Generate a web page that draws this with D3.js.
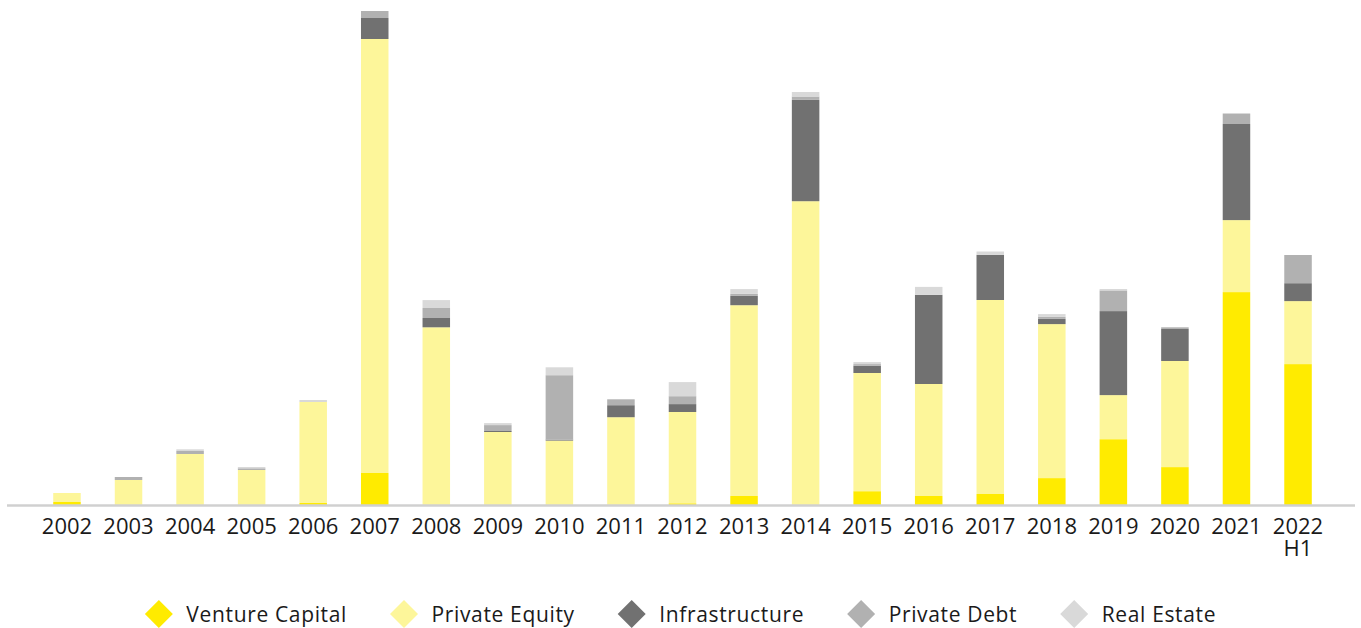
<!DOCTYPE html>
<html>
<head>
<meta charset="utf-8">
<script src="https://cdn.jsdelivr.net/npm/d3@7"></script>
<style>
  html, body { margin: 0; padding: 0; background: #ffffff; }
  svg { display: block; }
</style>
</head>
<body>
<svg id="chart" width="1361" height="628"></svg>
<script>
// ---- Data ----
const years = ["2002","2003","2004","2005","2006","2007","2008","2009","2010","2011","2012",
               "2013","2014","2015","2016","2017","2018","2019","2020","2021","2022\nH1"];
const seriesNames = ["Venture Capital","Private Equity","Infrastructure","Private Debt","Real Estate"];
const ventureCapital = [0.3, 0, 0, 0, 0.2, 3.2, 0, 0, 0, 0, 0.17, 0.9, 0, 1.38, 0.9, 1.1, 2.69, 6.58, 3.79, 21.29, 14.09];
const privateEquity  = [0.9, 2.5, 5.1, 3.5, 10.1, 43.4, 17.77, 7.3, 6.44, 8.78, 9.13, 19.08, 30.38, 11.82, 11.2, 19.4, 15.4, 4.41, 10.61, 7.2, 6.3];
const infrastructure = [0, 0, 0, 0, 0, 2.1, 0.93, 0.1, 0.1, 1.2, 0.79, 0.93, 10.13, 0.72, 8.92, 4.51, 0.52, 8.4, 3.2, 9.61, 1.79];
const privateDebt    = [0, 0.3, 0.3, 0.17, 0, 0.7, 1.0, 0.59, 6.44, 0.59, 0.79, 0.2, 0.34, 0.17, 0, 0, 0.2, 2.07, 0.17, 1.0, 2.82];
const realEstate     = [0, 0, 0.17, 0.13, 0.2, 0, 0.79, 0.2, 0.79, 0, 1.41, 0.48, 0.45, 0.2, 0.79, 0.34, 0.28, 0.14, 0, 0.1, 0];
const colors = ["#FFEB00", "#FDF69A", "#717171", "#B1B1B1", "#D9D9D9"];

const seriesValues = [ventureCapital, privateEquity, infrastructure, privateDebt, realEstate];
const table = years.map((y, i) => {
  const row = { year: y };
  seriesNames.forEach((s, k) => row[s] = seriesValues[k][i]);
  return row;
});

const svg = d3.select("#chart");
const W = 1361, H = 628;

const x = d3.scaleBand().domain(years).range([36.2, 1328.8]).paddingInner(0.553).paddingOuter(0.2765);
const y = d3.scaleLinear().domain([0, 50]).range([505, 5]);

const stack = d3.stack().keys(seriesNames);
const stacked = stack(table);

const color = d3.scaleOrdinal().domain(seriesNames).range(colors);

svg.append("g").selectAll("g")
  .data(stacked)
  .join("g")
  .attr("fill", d => color(d.key))
  .selectAll("rect")
  .data(d => d)
  .join("rect")
  .attr("x", d => x(d.data.year))
  .attr("width", x.bandwidth())
  .attr("y", d => y(d[1]))
  .attr("height", d => Math.max(0, y(d[0]) - y(d[1])));

// x axis
const xAxis = d3.axisBottom(x).tickSize(0).tickPadding(0);
const gx = svg.append("g").attr("transform", "translate(0,505.5)").call(xAxis);
gx.select(".domain").remove();
svg.append("line")
  .attr("x1", 7).attr("x2", 1355)
  .attr("y1", 505.5).attr("y2", 505.5)
  .attr("stroke", "#D0D0D0").attr("stroke-width", 2.5);

gx.selectAll(".tick text").each(function(d) {
  const t = d3.select(this);
  const lines = d.split("\n");
  t.text(null)
   .attr("y", 0).attr("dy", null)
   .attr("font-family", "'Open Sans', sans-serif")
   .attr("font-size", 22)
   .attr("fill", "#1a1a1a")
   .attr("text-anchor", "middle");
  lines.forEach((ln, i) => {
    t.append("tspan").attr("x", 0).attr("y", 28.5 + i * 22).text(ln);
  });
});

// legend
const legend = svg.append("g").attr("class", "legend");
const items = legend.selectAll("g").data(seriesNames).join("g");
items.append("path")
  .attr("d", d3.symbol().type(d3.symbolSquare).size(392))
  .attr("transform", "rotate(45)")
  .attr("fill", d => color(d));
items.append("text")
  .attr("x", 27.5)
  .attr("y", 7.5)
  .attr("font-family", "'Open Sans', sans-serif")
  .attr("font-size", 21)
  .attr("letter-spacing", 0.65)
  .attr("fill", "#1a1a1a")
  .text(d => d);

let cx = 0;
const positions = [];
items.each(function() {
  const tw = d3.select(this).select("text").node().getComputedTextLength();
  positions.push(cx);
  cx += 27.5 + tw + 57;
});
const totalW = cx - 57 + 14;
const startX = (W - totalW) / 2 + 14;
items.attr("transform", (d, i) => `translate(${startX + positions[i]},614)`);
</script>
</body>
</html>
